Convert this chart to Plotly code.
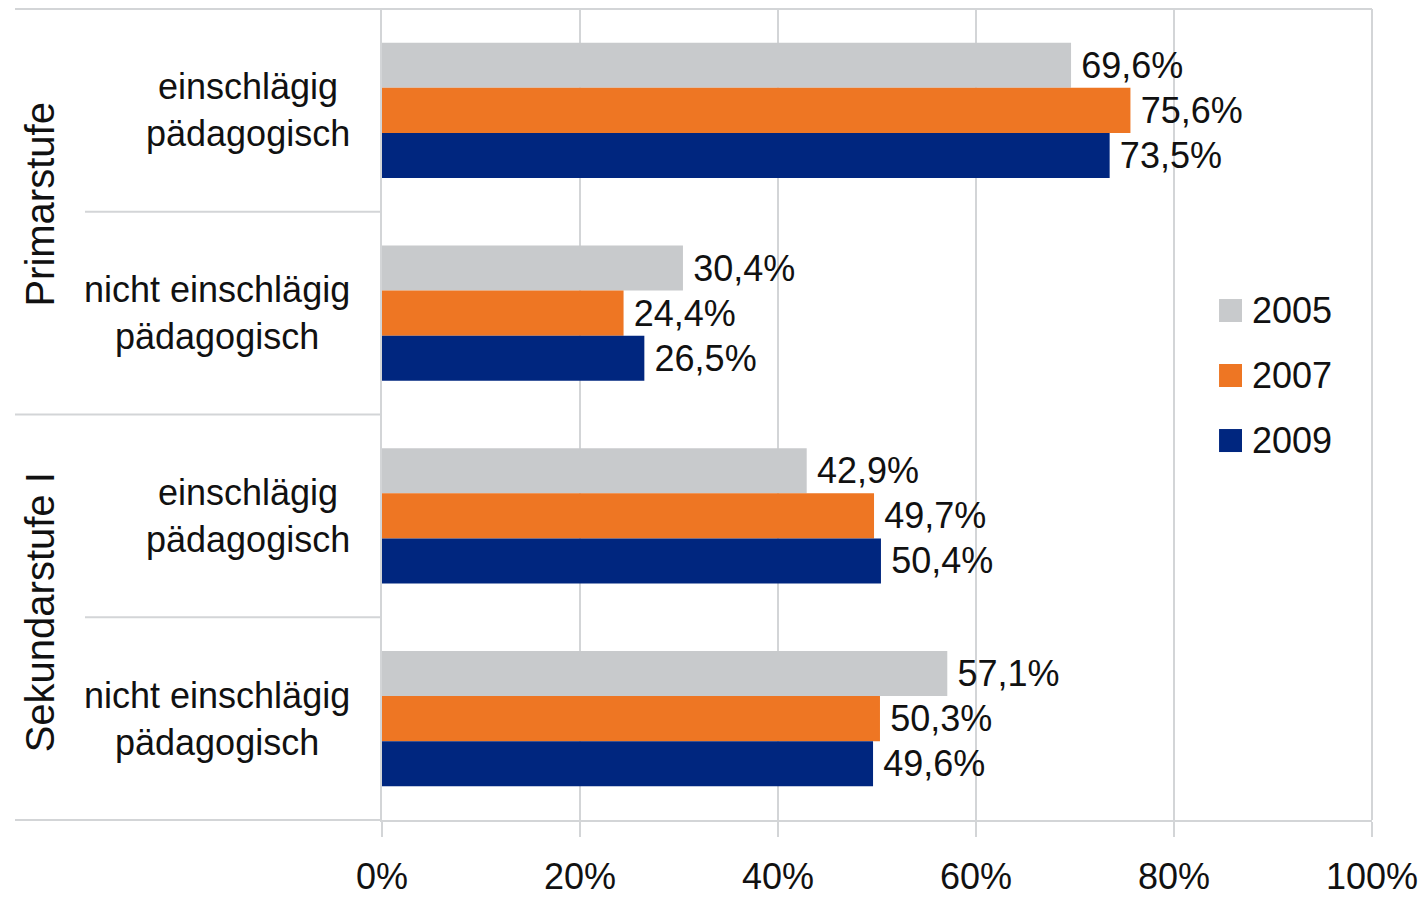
import plotly.graph_objects as go

# ---- data ----
years = ["2005", "2007", "2009"]
colors = ["#C8CACC", "#EE7623", "#00267F"]
cat_ids = ["prim_e", "prim_n", "sek_e", "sek_n"]
cat_labels = ["einschlägig<br>pädagogisch", "nicht einschlägig<br>pädagogisch",
              "einschlägig<br>pädagogisch", "nicht einschlägig<br>pädagogisch"]
groups = ["Primarstufe", "Sekundarstufe I"]
values_2005 = [69.6, 30.4, 42.9, 57.1]
values_2007 = [75.6, 24.4, 49.7, 50.3]
values_2009 = [73.5, 26.5, 50.4, 49.6]
series = [values_2005, values_2007, values_2009]
x_tickvals = [0, 20, 40, 60, 80, 100]
x_ticktext = ["0%", "20%", "40%", "60%", "80%", "100%"]

FONT = "Liberation Sans, Arial, sans-serif"
FS = 36
GRID = "#D3D5D7"
TXT = "#111111"

fig = go.Figure()
for name, col, vals in zip(years, colors, series):
    fig.add_trace(go.Bar(
        y=cat_ids, x=vals, name=name, orientation="h",
        marker=dict(color=col, line=dict(width=0)),
        texttemplate="\u2009%{x:.1f}%", textposition="outside",
        textfont=dict(family=FONT, size=FS, color=TXT),
        constraintext="none", cliponaxis=False, showlegend=False,
    ))

fig.update_layout(
    width=1422, height=898,
    margin=dict(l=382, r=50, t=9, b=78, autoexpand=False),
    paper_bgcolor="white", plot_bgcolor="white",
    barmode="group", bargap=0.334, bargroupgap=0,
    separators=",.",
    font=dict(family=FONT, size=FS, color=TXT),
    xaxis=dict(range=[0, 100], tickvals=x_tickvals, ticktext=x_ticktext,
               showgrid=True, gridcolor=GRID, gridwidth=2,
               zeroline=False, showline=True, linecolor=GRID, linewidth=2,
               ticks="outside", ticklen=15, tickwidth=2, tickcolor=GRID,
               tickfont=dict(family=FONT, size=FS, color=TXT),
               ticklabelstandoff=9, automargin=False),
    yaxis=dict(categoryorder="array", categoryarray=cat_ids, autorange="reversed",
               showticklabels=False, showgrid=False, zeroline=False,
               showline=True, linecolor=GRID, linewidth=2, automargin=False),
)

# frame / separator lines
def hline(y, x0, x1):
    fig.add_shape(type="line", xref="paper", yref="paper", x0=x0, x1=x1, y0=y, y1=y,
                  line=dict(color=GRID, width=2), layer="below")

hline(1.0, -0.3707, 1.0)
hline(0.75, -0.30, -0.002)
hline(0.5, -0.3707, 0.0)
hline(0.25, -0.30, -0.002)
hline(0.0, -0.3707, 0.0)
fig.add_shape(type="line", xref="paper", yref="paper", x0=1.0, x1=1.0, y0=0, y1=1,
              line=dict(color=GRID, width=2))

# category labels
for cid, lab in zip(cat_ids, cat_labels):
    fig.add_annotation(xref="paper", yref="y", x=-0.030, y=cid, text=lab,
                       xanchor="right", yanchor="middle", align="center", showarrow=False,
                       font=dict(family=FONT, size=FS, color=TXT))

# group labels (rotated)
for g, yc in zip(groups, [0.76, 0.256]):
    fig.add_annotation(xref="paper", yref="paper", x=-0.3455, y=yc, text=g, textangle=-90,
                       xanchor="center", yanchor="middle", showarrow=False,
                       font=dict(family=FONT, size=40, color=TXT))

# legend
leg_y = [0.6282, 0.5481, 0.4679]
for name, col, ly in zip(years, colors, leg_y):
    fig.add_shape(type="rect", xref="paper", yref="paper", x0=0.8455, x1=0.8687,
                  y0=ly - 0.01418, y1=ly + 0.01418, fillcolor=col, line=dict(width=0))
    fig.add_annotation(xref="paper", yref="paper", x=0.8768, y=ly, text=name,
                       xanchor="left", yanchor="middle", showarrow=False,
                       font=dict(family=FONT, size=FS, color=TXT))

fig.write_html("out.html", config={"displayModeBar": False},
               post_script="document.body.style.margin='0';document.body.style.overflow='hidden';")
